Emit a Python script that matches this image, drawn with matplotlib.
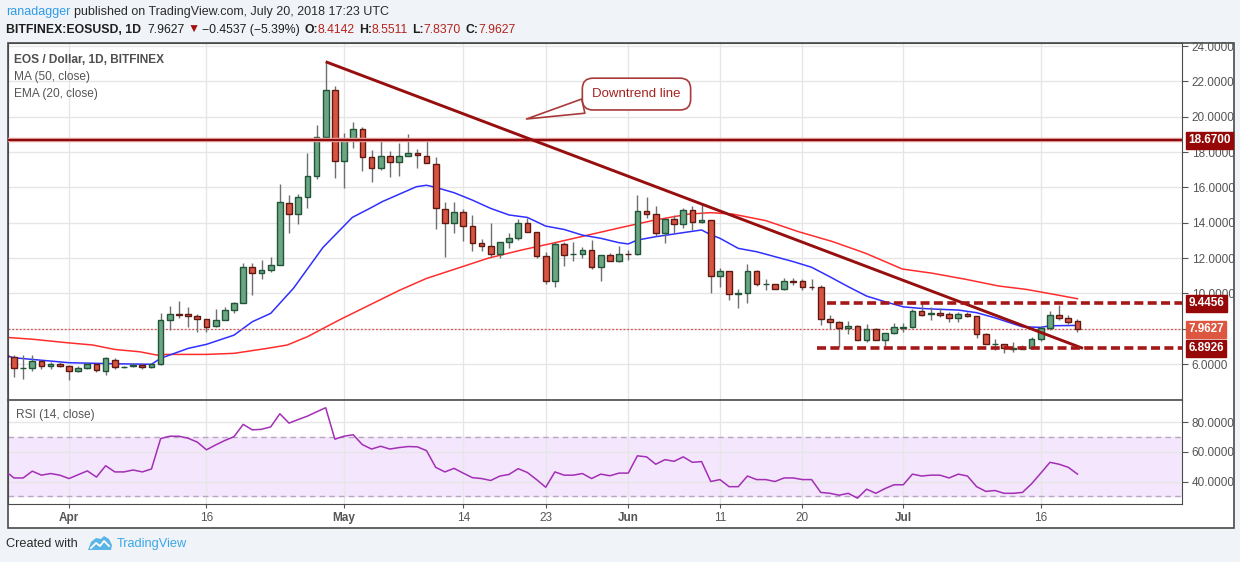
import matplotlib
matplotlib.use('Agg')
import matplotlib.pyplot as plt
import numpy as np
import pandas as pd
from matplotlib.patches import Rectangle, Polygon

plt.rcParams['font.family'] = ['Liberation Sans', 'DejaVu Sans']

# ---- data ----
dates = pd.date_range('2018-03-25', '2018-07-20', freq='D')

opens = [6.49, 6.38, 5.76, 5.76, 6.15, 5.87, 5.99, 5.87, 5.60, 5.76, 5.99, 5.59, 6.26, 5.81, 5.87, 5.95, 5.81,
         5.99, 8.47, 8.85, 8.83, 8.70, 8.53, 8.14, 8.47, 9.04, 9.44, 11.47, 11.13, 11.30, 11.60, 15.10, 14.47,
         15.45, 16.62, 18.83, 21.49, 17.47, 18.76, 19.28, 17.70, 17.08, 17.80, 17.45, 17.80, 17.96, 17.80,
         17.35, 14.80, 13.97, 14.59, 13.81, 12.83, 12.66, 12.21, 12.89, 13.12, 13.97, 13.45, 12.12, 10.70,
         12.78, 12.21, 12.21, 12.43, 11.48, 12.16, 11.85, 12.25, 12.21, 14.64, 14.51, 13.43, 14.19, 13.95,
         14.70, 14.02, 14.14, 10.97, 11.27, 9.95, 10.00, 11.27, 10.51, 10.51, 10.27, 10.73, 10.68, 10.38,
         10.37, 8.53, 8.36, 8.02, 8.13, 7.34, 7.96, 7.34, 7.74, 8.07, 8.09, 8.99, 8.82, 8.88, 8.84, 8.59,
         8.82, 8.71, 7.68, 7.12, 7.12, 6.88, 6.88, 6.89, 7.40, 8.06, 8.76, 8.59, 8.4142]
highs = [6.55, 6.49, 6.49, 6.49, 6.26, 6.11, 6.11, 5.97, 5.87, 6.11, 6.08, 6.40, 6.32, 5.90, 6.04, 6.06, 6.06,
         8.91, 9.29, 9.57, 9.23, 8.83, 8.53, 9.10, 9.25, 9.51, 11.70, 11.70, 11.89, 12.08, 16.19, 15.57, 15.62,
         17.94, 19.53, 23.11, 21.74, 19.06, 19.70, 19.40, 18.10, 18.66, 18.06, 18.51, 19.02, 18.15, 18.77,
         17.70, 15.15, 15.15, 14.76, 14.42, 13.06, 13.97, 12.89, 13.43, 14.23, 14.25, 13.45, 12.32, 12.89,
         12.89, 12.89, 12.64, 13.02, 12.20, 12.30, 12.70, 12.45, 15.55, 15.46, 14.93, 14.23, 14.42, 14.85,
         14.93, 15.04, 14.14, 11.42, 11.27, 10.27, 11.66, 11.30, 10.80, 10.55, 10.90, 10.86, 10.84, 10.84,
         10.48, 8.76, 8.42, 8.46, 8.23, 8.25, 8.04, 7.76, 8.30, 8.30, 9.14, 9.44, 9.25, 9.20, 8.95, 8.95,
         8.93, 8.71, 7.74, 7.40, 7.12, 7.23, 7.08, 7.55, 8.15, 8.98, 9.36, 8.76, 8.5511]
lows = [6.30, 5.29, 5.17, 5.62, 5.74, 5.70, 5.83, 5.12, 5.53, 5.72, 5.53, 5.40, 5.70, 5.78, 5.81, 5.72, 5.76,
        5.97, 7.91, 8.62, 8.12, 7.84, 7.84, 8.08, 8.47, 8.91, 9.44, 9.93, 10.80, 11.24, 11.60, 13.43, 13.93,
        14.81, 16.50, 18.83, 16.55, 15.98, 18.25, 16.95, 16.28, 17.00, 16.60, 16.64, 17.75, 17.10, 17.37,
        13.63, 12.08, 13.43, 12.98, 12.42, 12.38, 12.04, 12.00, 12.55, 13.03, 13.45, 12.00, 10.51, 10.38,
        11.57, 11.85, 12.00, 11.37, 10.73, 11.85, 11.80, 11.90, 12.15, 14.29, 13.25, 12.87, 13.40, 13.68,
        13.60, 14.00, 10.04, 10.38, 9.63, 9.15, 9.47, 10.40, 10.20, 10.25, 10.20, 10.45, 10.17, 10.20,
        8.23, 8.00, 6.95, 7.72, 7.34, 7.27, 7.34, 7.04, 7.70, 7.80, 8.05, 8.73, 8.50, 8.69, 8.36, 8.40,
        8.69, 7.46, 7.12, 6.78, 6.61, 6.68, 6.85, 6.87, 7.30, 7.93, 8.50, 8.27, 7.837]
closes = [6.38, 5.76, 5.78, 6.15, 5.87, 5.99, 5.87, 5.59, 5.76, 6.02, 5.64, 6.32, 5.81, 5.86, 5.97, 5.81, 5.99,
          8.49, 8.83, 8.79, 8.70, 8.53, 8.08, 8.47, 9.04, 9.44, 11.47, 11.13, 11.30, 11.60, 15.15, 14.47, 15.45,
          16.62, 18.83, 21.49, 17.47, 18.76, 19.28, 17.70, 17.08, 17.80, 17.42, 17.80, 17.96, 17.81, 17.37,
          14.81, 13.97, 14.59, 13.81, 12.83, 12.66, 12.21, 12.89, 13.12, 13.97, 13.45, 12.12, 10.70, 12.81,
          12.16, 12.25, 12.43, 11.48, 12.16, 11.85, 12.21, 12.21, 14.64, 14.51, 13.43, 14.19, 13.95, 14.70,
          14.02, 14.14, 10.97, 11.25, 9.95, 10.00, 11.27, 10.51, 10.53, 10.27, 10.73, 10.67, 10.35, 10.35,
          8.53, 8.36, 8.02, 8.13, 7.34, 7.96, 7.34, 7.74, 8.09, 8.10, 8.99, 8.80, 8.88, 8.78, 8.59, 8.82,
          8.71, 7.68, 7.14, 7.14, 6.89, 6.90, 6.90, 7.40, 8.06, 8.76, 8.59, 8.41, 7.9627]

# moving averages, read at sample days (days counted from Apr 1)
ema_days = [-6.7, -6, 0, 5, 9, 10, 13, 15, 18, 20, 22, 24.5, 27.7, 30.9, 32.8, 34.2, 37.9, 39, 40, 42, 44,
            46, 48, 50, 52, 54, 56, 58, 60, 61, 62, 64, 67, 69, 70, 71, 73, 75, 77, 79, 81, 83, 85, 87, 89,
            91, 93, 95, 97, 99, 101, 102, 104, 106, 107, 110]
ema_vals = [6.46, 6.36, 6.08, 6.02, 5.99, 6.33, 6.89, 7.12, 7.64, 8.40, 8.87, 10.30, 12.60, 14.30, 14.81,
            15.20, 16.04, 16.12, 16.00, 15.70, 15.28, 14.81, 14.44, 14.30, 13.81, 13.62, 13.30, 13.12, 12.87,
            12.80, 13.02, 13.21, 13.44, 13.59, 13.32, 13.12, 12.55, 12.36, 12.08, 11.80, 11.48, 10.94, 10.38,
            9.85, 9.53, 9.24, 9.15, 9.10, 9.06, 8.91, 8.62, 8.45, 8.11, 8.08, 8.17, 8.19]
ma_days = [-6.7, -3.8, -0.2, 2.6, 5, 7.7, 9.6, 10.6, 15, 18, 21.6, 23.8, 26, 29.6, 36.1, 39, 42, 45.7, 49.3,
           53, 56.6, 60.3, 63.9, 67.6, 70, 72.4, 76, 79.6, 83.3, 86.9, 90.9, 94.2, 97.8, 101.4, 104.4, 107.3,
           110]
ma_vals = [7.51, 7.40, 7.21, 7.08, 6.83, 6.70, 6.51, 6.55, 6.55, 6.61, 6.89, 7.08, 7.55, 8.53, 10.19, 10.85,
           11.36, 11.99, 12.45, 12.87, 13.30, 13.74, 14.15, 14.49, 14.57, 14.49, 14.12, 13.49, 12.93, 12.27,
           11.38, 11.14, 10.80, 10.42, 10.23, 9.96, 9.70]

rsi = [47.4, 42.4, 42.4, 47.0, 44.3, 45.4, 44.3, 42.0, 44.6, 47.2, 43.0, 50.7, 46.5, 46.5, 47.8, 46.5, 48.5,
       69.1, 70.7, 70.7, 69.3, 66.7, 61.5, 64.8, 67.8, 70.4, 78.7, 75.0, 75.4, 77.0, 85.9, 79.6, 82.0, 84.3,
       87.2, 90.0, 68.7, 70.7, 71.7, 65.0, 62.0, 63.9, 62.0, 63.0, 63.7, 63.5, 60.9, 49.6, 46.5, 48.9, 45.7,
       42.6, 42.0, 40.7, 43.7, 44.8, 48.7, 46.1, 41.3, 36.1, 46.5, 44.3, 44.3, 45.4, 42.0, 45.0, 43.9, 45.7,
       45.7, 57.4, 56.7, 51.7, 54.8, 53.7, 56.7, 53.0, 53.5, 40.0, 41.3, 36.5, 36.5, 43.7, 41.3, 41.3, 40.0,
       42.4, 42.4, 41.3, 41.3, 32.6, 32.0, 30.7, 32.0, 28.7, 34.8, 32.0, 35.2, 37.8, 37.8, 45.0, 43.7, 44.3,
       44.3, 42.4, 45.0, 43.7, 36.5, 33.3, 33.9, 32.0, 32.0, 32.6, 38.5, 45.7, 53.0, 51.7, 49.6, 45.0]

trend_days = [28, 110.6]
trend_vals = [23.11, 6.89]
level_top = 18.67
resistance = 9.4456
support = 6.8926
last_close = 7.9627

tick_dates = ['2018-04-01', '2018-04-16', '2018-05-01', '2018-05-14', '2018-05-23',
              '2018-06-01', '2018-06-11', '2018-06-20', '2018-07-01', '2018-07-16']
tick_labels = ['Apr', '16', 'May', '14', '23', 'Jun', '11', '20', 'Jul', '16']

# ---- figure ----
W, H = 1240, 562
fig = plt.figure(figsize=(W / 100, H / 100), dpi=100)
fig.patch.set_facecolor('#f0f3f7')


def fx(v):
    return v / W


def fy(v):
    return 1 - v / H


fig.patches.append(Rectangle((fx(8), fy(528)), fx(1234) - fx(8), fy(43) - fy(528),
                             transform=fig.transFigure, fc='white', ec='#4a4a4a', lw=1.2, zorder=-5))

ax = fig.add_axes([fx(8), fy(400), fx(1182) - fx(8), fy(43) - fy(400)])
axr = fig.add_axes([fx(8), fy(504), fx(1182) - fx(8), fy(400) - fy(504)], sharex=ax)

t0 = pd.Timestamp('2018-04-01')
x = np.asarray((dates - t0).days, dtype=float)
tick_x = [(pd.Timestamp(d) - t0).days for d in tick_dates]

o, h, l, c = map(np.array, (opens, highs, lows, closes))
up = c >= o

ax.set_xlim(-6.65, 121.4)
ax.set_ylim(3.97, 24.17)

ax.vlines(x, l, h, color='#707072', lw=1, zorder=3)
bottom = np.minimum(o, c)
height = np.maximum(np.abs(c - o), 0.04)
ax.bar(x[up], height[up], bottom=bottom[up], width=0.62, color='#6ba583', edgecolor='#225437', lw=1, zorder=4)
ax.bar(x[~up], height[~up], bottom=bottom[~up], width=0.62, color='#d75442', edgecolor='#5e1a12', lw=1, zorder=4)

ax.plot(ma_days, ma_vals, color='#ff2d2d', lw=1.1, zorder=2)
ax.plot(ema_days, ema_vals, color='#2f2fff', lw=1.1, zorder=2)

# drawings
ax.axhline(last_close, color='#d9534f', lw=0.9, ls=(0, (1.5, 1.5)), zorder=2)
ax.axhline(level_top, color='#e8a5a5', lw=3.2, zorder=5)
ax.axhline(level_top, color='#8e0b0b', lw=1.6, zorder=5)
ax.plot(trend_days, trend_vals, color='#960e0e', lw=2.1, zorder=6, solid_capstyle='butt')
ax.hlines(resistance, 82.7, 121.4, color='#a51818', lw=2.6, ls=(0, (2.5, 1.2)), zorder=6)
ax.hlines(support, 81.6, 121.4, color='#a51818', lw=2.6, ls=(0, (2.5, 1.2)), zorder=6)

ax.annotate('Downtrend line', xy=(49.9, 19.87), xytext=(61.9, 21.28), ha='center', va='center',
            color='#a52121', fontsize=9.5, zorder=8,
            bbox=dict(boxstyle='round,pad=0.75,rounding_size=0.8', fc='white', ec='#a83a3a', lw=1.2),
            arrowprops=dict(arrowstyle='wedge,tail_width=1.1,shrink_factor=0.5', fc='white',
                            ec='#a83a3a', lw=1.2, shrinkA=0, shrinkB=0))

# axes styling
for a in (ax, axr):
    a.set_facecolor('white')
    for s in a.spines.values():
        s.set_color('#4a4a4a')
    a.yaxis.tick_right()
    a.set_axisbelow(True)
    a.grid(True, color='#e6e6e6', lw=1)

ax.set_yticks(np.arange(6, 25, 2))
ax.set_yticklabels(['' if v == 8 else f'{v:.4f}' for v in np.arange(6, 25, 2)])
ax.tick_params(axis='y', length=4, color='#555555', labelsize=8.5, labelcolor='#555555', pad=3)
ax.tick_params(axis='x', length=0, labelbottom=False)

axr.set_ylim(24.75, 95.25)
axr.axhspan(30, 70, color='#f4e6fc', zorder=0)
axr.axhline(70, color='#b9a6c0', lw=1, ls=(0, (4, 3)), zorder=1)
axr.axhline(30, color='#b9a6c0', lw=1, ls=(0, (4, 3)), zorder=1)
axr.plot(x, rsi, color='#a22fb5', lw=1.1, zorder=3)
axr.set_yticks([40, 60, 80])
axr.set_yticklabels(['40.0000', '60.0000', '80.0000'])
axr.tick_params(axis='y', length=4, color='#555555', labelsize=8.5, labelcolor='#555555', pad=3)
axr.set_xticks(tick_x)
axr.set_xticklabels(tick_labels)
axr.tick_params(axis='x', length=3, color='#555555', labelsize=8.5, labelcolor='#555555', pad=3)
for lab in axr.get_xticklabels():
    if lab.get_text() in ('Apr', 'May', 'Jun', 'Jul'):
        lab.set_fontweight('bold')
axr.spines['top'].set_linewidth(1.2)


def price_tag(val, fc):
    ax.annotate(f'{val:.4f}', xy=(1, val), xycoords=('axes fraction', 'data'), xytext=(4.5, 0),
                textcoords='offset points', ha='left', va='center', color='white', fontsize=8.5,
                fontweight='bold', annotation_clip=False, zorder=10,
                bbox=dict(boxstyle='square,pad=0.22', fc=fc, ec=fc))


price_tag(level_top, '#960808')
price_tag(resistance, '#960808')
price_tag(last_close, '#dc5640')
price_tag(support, '#960808')

# legend texts inside chart
fig.text(fx(14), fy(60), 'EOS / Dollar, 1D, BITFINEX', fontsize=8.6, fontweight='bold', color='#4f4f4f', va='center')
fig.text(fx(14), fy(77), 'MA (50, close)', fontsize=8.6, color='#555555', va='center')
fig.text(fx(14), fy(94), 'EMA (20, close)', fontsize=8.6, color='#555555', va='center')
axr.text(0.007, 0.86, 'RSI (14, close)', transform=axr.transAxes, fontsize=8.6, color='#555555', va='center')

# header
renderer = fig.canvas.get_renderer()


def run_text(x0, y, parts, size):
    xp = x0
    for s, col, wt, gap in parts:
        t = fig.text(fx(xp), fy(y), s, color=col, fontweight=wt, fontsize=size, va='center', ha='left')
        xp += t.get_window_extent(renderer).width + gap
    return xp


run_text(6, 12, [('ranadagger', '#2f9be8', 'normal', 3.5),
                 ('published on TradingView.com, July 20, 2018 17:23 UTC', '#2b2b2b', 'normal', 0)], 9.0)
red = '#b5231d'
run_text(6, 30, [('BITFINEX:EOSUSD, 1D', '#1e1e1e', 'bold', 6),
                 ('7.9627', '#1e1e1e', 'normal', 3),
                 ('\u25bc', '#a30d0d', 'normal', 3),
                 ('\u22120.4537 (\u22125.39%)', '#1e1e1e', 'normal', 4),
                 ('O:', '#1e1e1e', 'bold', 0), ('8.4142', red, 'normal', 4),
                 ('H:', '#1e1e1e', 'bold', 0), ('8.5511', red, 'normal', 4),
                 ('L:', '#1e1e1e', 'bold', 0), ('7.8370', red, 'normal', 4),
                 ('C:', '#1e1e1e', 'bold', 0), ('7.9627', red, 'normal', 0)], 8.8)

# footer
fig.text(fx(6), fy(544), 'Created with', fontsize=9.2, color='#2b2b2b', va='center')
logo = Polygon([(fx(88), fy(550)), (fx(91), fy(542)), (fx(96), fy(538)), (fx(101), fy(539)),
                (fx(104), fy(536)), (fx(109), fy(539)), (fx(112), fy(545)), (fx(111), fy(550))],
               closed=True, transform=fig.transFigure, fc='#5ab4e6', ec='none')
fig.patches.append(logo)
fig.add_artist(plt.Line2D([fx(91), fx(96), fx(100), fx(104), fx(109)],
                          [fy(548), fy(543), fy(546), fy(541), fy(546)],
                          transform=fig.transFigure, color='white', lw=1.3))
fig.text(fx(117), fy(544), 'TradingView', fontsize=9.2, color='#3aa6e8', va='center')

fig.savefig('out.png', dpi=100, facecolor=fig.get_facecolor())
